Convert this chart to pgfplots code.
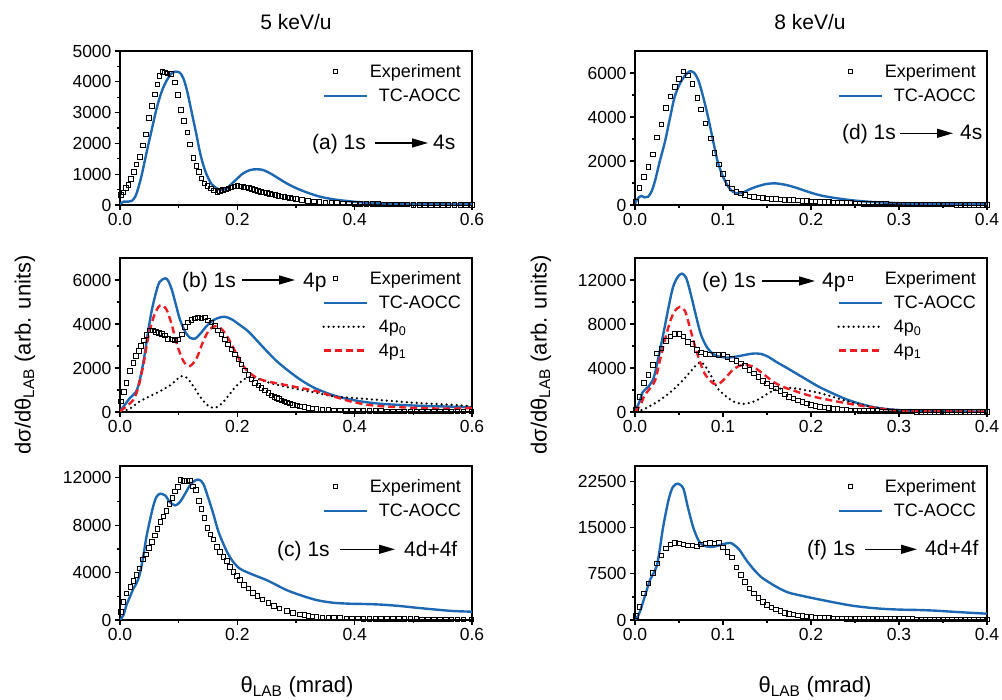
\documentclass[border=0pt]{standalone}
\usepackage{pgfplots}
\pgfplotsset{compat=1.18}
\usepackage{fontspec}
\usepackage{calc}
\setmainfont{Liberation Sans}
\usetikzlibrary{arrows.meta}
\definecolor{tcblue}{RGB}{29,104,178}
\definecolor{pred}{RGB}{236,30,36}
\newcommand{\lw}[1]{\makebox[\widthof{TC-AOCC}][l]{#1}}
\pgfplotsset{
 panel/.style={scale only axis, width=352pt, height=154pt, xmin=0, ymin=0,
  axis line style={line width=1.4pt}, tick align=outside, tick pos=left,
  major tick length=5pt, minor tick length=3pt,
  every tick/.style={line width=1.3pt, black},
  minor x tick num=1, minor y tick num=1, scaled ticks=false,
  tick label style={font=\fontsize{17.5}{20}\selectfont},
  /pgf/number format/assume math mode=true,
  yticklabel style={/pgf/number format/fixed, /pgf/number format/precision=0, /pgf/number format/1000 sep={}},
  xticklabel style={/pgf/number format/fixed, /pgf/number format/fixed zerofill, /pgf/number format/precision=1},
  legend cell align=right,
  legend style={draw=none, fill=none, font=\fontsize{18}{21}\selectfont, at={(1,1)}, anchor=north east, xshift=-6pt, yshift=-6pt,
   nodes={inner xsep=2pt, inner ysep=5pt}},
 },
 exp/.style={only marks, mark=square, mark size=2.3pt, black, mark options={line width=0.75pt, black},
  legend image code/.code={\draw[mark repeat=2,mark phase=2,##1] plot coordinates {(0pt,0pt) (12pt,0pt) (43pt,0pt)};}},
 tc/.style={tcblue, line width=2.4pt, smooth, no markers,
  legend image code/.code={\draw[##1] (0pt,0pt) -- (43pt,0pt);}},
 pz/.style={black, line width=2.5pt, smooth, no markers, line cap=round, dash pattern=on 0pt off 5pt,
  legend image code/.code={\draw[##1] (0pt,0pt) -- (43pt,0pt);}},
 po/.style={pred, line width=2.4pt, smooth, no markers, dash pattern=on 7pt off 4pt,
  legend image code/.code={\draw[##1] (0pt,0pt) -- (43pt,0pt);}},
}
\begin{document}
\begin{tikzpicture}
\path[use as bounding box] (0pt,0pt) rectangle (1002pt,700pt);
\tikzset{anntext/.style={font=\fontsize{21}{24}\selectfont, inner sep=0pt, anchor=base west},
 annarrow/.style={line width=1.3pt, -{Triangle[length=16pt,width=9pt]}}}
% ---------------- (a)
\begin{axis}[panel, at={(120pt,495pt)}, anchor=south west, xmax=0.6, ymax=5000,
 xtick={0,0.2,0.4,0.6}, ytick={0,1000,2000,3000,4000,5000}]
\addplot[exp] table {
0.001 325
0.006 411
0.010 560
0.014 650
0.019 844
0.024 1082
0.028 1320
0.034 1569
0.039 1937
0.044 2294
0.049 2825
0.054 3225
0.059 3593
0.064 3918
0.067 4199
0.072 4329
0.077 4307
0.081 4275
0.087 4253
0.094 3983
0.099 3571
0.104 3084
0.109 2738
0.115 2359
0.119 1970
0.125 1537
0.130 1277
0.134 1082
0.139 866
0.144 703
0.149 617
0.155 541
0.160 476
0.166 433
0.170 460
0.175 495
0.180 509
0.185 540
0.190 574
0.195 600
0.200 615
0.205 610
0.210 595
0.215 575
0.220 550
0.225 520
0.230 485
0.235 455
0.240 430
0.245 405
0.250 385
0.255 360
0.260 340
0.265 320
0.270 300
0.275 280
0.280 262
0.285 245
0.290 230
0.295 216
0.300 200
0.310 168
0.320 140
0.330 115
0.340 97
0.350 84
0.360 72
0.370 62
0.380 53
0.390 47
0.400 42
0.410 38
0.420 34
0.430 30
0.440 27
0.450 24
0.460 21
0.470 19
0.480 17
0.490 15
0.500 13
0.510 12
0.520 12
0.530 11
0.540 11
0.550 10
0.560 10
0.570 10
0.580 10
0.590 10
0.600 10
};
\addlegendentry{Experiment}
\addplot[tc] table {
0.000 30
0.006 108
0.014 108
0.020 130
0.026 270
0.031 541
0.037 974
0.045 1677
0.054 2435
0.0625 3139
0.071 3680
0.080 4058
0.088 4275
0.095 4329
0.102 4296
0.108 4113
0.114 3734
0.119 3300
0.125 2760
0.131 2219
0.136 1732
0.142 1299
0.148 974
0.156 682
0.165 541
0.173 487
0.182 541
0.190 682
0.199 844
0.210 1028
0.222 1136
0.233 1160
0.244 1136
0.256 1028
0.270 866
0.284 703
0.301 541
0.318 411
0.341 270
0.364 184
0.392 119
0.420 76
0.466 43
0.506 32
0.600 22
};
\addlegendentry{TC-AOCC}
\end{axis}
% ---------------- (b)
\begin{axis}[panel, at={(120pt,288pt)}, anchor=south west, xmax=0.6, ymax=7000,
 xtick={0,0.2,0.4,0.6}, ytick={0,2000,4000,6000}]
\addplot[exp] table {
0.001 487
0.007 914
0.011 1325
0.017 1858
0.023 2239
0.027 2543
0.032 2772
0.036 3000
0.041 3259
0.045 3503
0.051 3716
0.056 3716
0.061 3655
0.066 3594
0.071 3564
0.077 3488
0.082 3335
0.088 3305
0.094 3259
0.099 3305
0.105 3533
0.111 3868
0.116 4066
0.122 4188
0.128 4264
0.133 4295
0.139 4264
0.145 4295
0.150 4173
0.156 4066
0.162 3914
0.167 3716
0.173 3533
0.179 3305
0.184 3076
0.190 2848
0.196 2620
0.202 2391
0.207 2163
0.213 1889
0.219 1675
0.224 1477
0.230 1325
0.236 1203
0.241 1097
0.247 975
0.253 868
0.258 762
0.263 690
0.267 640
0.271 585
0.275 533
0.280 485
0.284 442
0.290 385
0.295 335
0.301 295
0.307 259
0.314 220
0.321 183
0.328 158
0.335 137
0.345 112
0.355 95
0.365 82
0.375 72
0.385 63
0.395 55
0.405 50
0.415 47
0.425 44
0.435 41
0.445 38
0.455 36
0.465 34
0.475 32
0.485 31
0.495 30
0.505 30
0.515 30
0.525 30
0.535 30
0.545 30
0.555 30
0.565 30
0.575 30
0.585 30
0.599 30
};
\addlegendentry{Experiment}
\addplot[tc] table {
0.000 30
0.0085 335
0.017 640
0.026 868
0.031 1173
0.037 1858
0.043 2772
0.048 3686
0.054 4600
0.060 5285
0.067 5894
0.077 6077
0.082 5970
0.088 5589
0.095 4904
0.102 4219
0.111 3655
0.119 3381
0.128 3335
0.136 3533
0.148 3914
0.159 4173
0.170 4295
0.179 4325
0.190 4219
0.204 3960
0.219 3655
0.233 3259
0.250 2772
0.267 2315
0.284 1934
0.307 1477
0.329 1127
0.352 868
0.375 670
0.409 487
0.448 365
0.505 289
0.562 244
0.600 213
};
\addlegendentry{TC-AOCC}
\addplot[pz] table {
0.003 30
0.017 152
0.034 487
0.051 716
0.068 944
0.085 1203
0.097 1477
0.105 1630
0.114 1553
0.125 1173
0.136 716
0.148 335
0.159 183
0.170 305
0.182 640
0.193 1020
0.204 1325
0.216 1553
0.227 1584
0.238 1477
0.255 1325
0.278 1173
0.307 1020
0.335 868
0.363 716
0.397 640
0.448 533
0.505 411
0.562 335
0.600 259
};
\addlegendentry{\lw{4p\textsubscript{0}}}
\addplot[po] table {
0.000 30
0.011 259
0.023 563
0.031 1097
0.040 2163
0.048 3381
0.057 4295
0.065 4752
0.071 4858
0.079 4676
0.088 3990
0.097 3076
0.108 2315
0.119 2087
0.131 2467
0.142 3229
0.153 3762
0.165 3914
0.176 3686
0.187 3229
0.199 2620
0.210 2087
0.221 1782
0.233 1553
0.250 1401
0.278 1249
0.307 1097
0.335 944
0.363 716
0.392 487
0.420 335
0.448 259
0.505 183
0.562 152
0.600 183
};
\addlegendentry{\lw{4p\textsubscript{1}}}
\end{axis}
% ---------------- (c)
\begin{axis}[panel, at={(120pt,80pt)}, anchor=south west, xmax=0.6, ymax=13000,
 xtick={0,0.2,0.4,0.6}, ytick={0,4000,8000,12000}]
\addplot[exp] table {
0.001 701
0.006 1542
0.011 2243
0.018 2804
0.023 3309
0.028 3785
0.033 4346
0.039 5103
0.044 5524
0.049 6085
0.054 6589
0.059 7150
0.064 7711
0.069 8272
0.074 8748
0.079 9197
0.084 9814
0.089 10319
0.094 10851
0.099 11216
0.103 11833
0.109 11721
0.114 11721
0.119 11777
0.124 11272
0.129 10992
0.134 10038
0.139 9393
0.144 8636
0.149 7767
0.154 7234
0.159 6814
0.165 6169
0.170 5748
0.176 5328
0.182 4991
0.187 4486
0.193 4066
0.199 3701
0.204 3365
0.211 2944
0.219 2664
0.226 2299
0.234 2019
0.243 1738
0.253 1458
0.262 1206
0.272 981
0.284 785
0.295 617
0.307 477
0.314 420
0.321 365
0.328 320
0.335 280
0.345 235
0.355 205
0.365 180
0.375 160
0.386 140
0.395 130
0.405 122
0.415 115
0.425 110
0.435 104
0.445 98
0.455 93
0.465 88
0.475 84
0.485 80
0.495 76
0.505 72
0.515 68
0.525 63
0.535 58
0.545 56
0.555 56
0.565 56
0.575 56
0.585 56
0.599 56
};
\addlegendentry{Experiment}
\addplot[tc] table {
0.000 0
0.006 421
0.011 1262
0.017 1963
0.023 2664
0.028 3084
0.034 3926
0.040 5468
0.045 7010
0.051 8412
0.057 9674
0.062 10375
0.068 10655
0.077 10515
0.085 9954
0.094 9674
0.102 9954
0.111 10655
0.119 11356
0.128 11777
0.135 11833
0.142 11496
0.150 10375
0.159 8973
0.167 7571
0.176 6449
0.184 5608
0.193 4907
0.204 4346
0.219 3982
0.233 3701
0.250 3365
0.267 2944
0.284 2524
0.307 2103
0.335 1682
0.363 1458
0.392 1374
0.420 1346
0.448 1290
0.477 1178
0.505 1037
0.534 897
0.568 757
0.600 701
};
\addlegendentry{TC-AOCC}
\end{axis}
% ---------------- (d)
\begin{axis}[panel, at={(635pt,495pt)}, anchor=south west, xmax=0.4, ymax=7000,
 xtick={0,0.1,0.2,0.3,0.4}, ytick={0,2000,4000,6000}]
\addplot[exp] table {
0.001 151
0.005 786
0.010 1269
0.015 1723
0.020 2297
0.025 3082
0.030 3672
0.035 4412
0.040 4941
0.045 5379
0.050 5742
0.055 6074
0.060 5893
0.065 5515
0.071 4865
0.075 4352
0.080 3702
0.086 3022
0.090 2372
0.095 1843
0.100 1405
0.105 1012
0.110 756
0.115 604
0.120 525
0.125 450
0.130 400
0.135 372
0.140 345
0.145 320
0.150 300
0.155 280
0.160 265
0.165 255
0.170 245
0.175 235
0.180 222
0.185 210
0.190 195
0.195 180
0.200 165
0.205 157
0.210 150
0.215 142
0.220 130
0.225 121
0.230 112
0.235 104
0.240 93
0.245 84
0.250 75
0.255 66
0.260 60
0.265 55
0.270 50
0.275 46
0.280 42
0.285 38
0.290 35
0.295 33
0.300 31
0.305 30
0.310 29
0.315 28
0.320 27
0.325 26
0.330 25
0.335 24
0.340 23
0.345 22
0.350 21
0.355 20
0.360 19
0.365 18
0.370 17
0.375 16
0.380 16
0.385 15
0.390 15
0.395 15
0.400 15
};
\addlegendentry{Experiment}
\addplot[tc] table {
0.000 76
0.004 332
0.0075 408
0.011 348
0.015 378
0.019 635
0.023 1133
0.028 1964
0.034 2871
0.040 4004
0.045 4911
0.051 5515
0.057 5893
0.062 6074
0.067 6014
0.072 5666
0.077 4986
0.083 4004
0.089 2871
0.094 1964
0.100 1284
0.106 831
0.111 604
0.117 529
0.123 574
0.130 710
0.138 831
0.149 952
0.160 982
0.172 907
0.183 786
0.194 635
0.209 453
0.225 332
0.247 212
0.270 136
0.304 76
0.342 45
0.400 30
};
\addlegendentry{TC-AOCC}
\end{axis}
% ---------------- (e)
\begin{axis}[panel, at={(635pt,288pt)}, anchor=south west, xmax=0.4, ymax=14000,
 xtick={0,0.1,0.2,0.3,0.4}, ytick={0,4000,8000,12000}]
\addplot[exp] table {
0.001 244
0.005 1374
0.010 2656
0.015 3358
0.020 4274
0.025 5343
0.030 5801
0.035 6472
0.040 6869
0.045 7083
0.050 7083
0.055 6869
0.060 6350
0.065 6167
0.070 5648
0.075 5404
0.080 5282
0.085 5251
0.090 5251
0.095 5190
0.100 5251
0.105 5037
0.110 4824
0.115 4640
0.120 4427
0.125 4213
0.130 3816
0.135 3511
0.140 3206
0.145 2839
0.150 2595
0.155 2351
0.160 2137
0.165 1893
0.170 1600
0.175 1374
0.180 1221
0.185 1069
0.190 916
0.195 780
0.200 660
0.205 560
0.210 475
0.215 410
0.220 350
0.225 305
0.230 260
0.235 220
0.240 190
0.245 160
0.250 140
0.255 120
0.260 105
0.265 95
0.270 85
0.275 75
0.280 68
0.285 60
0.290 55
0.295 50
0.300 45
0.305 43
0.310 40
0.315 38
0.320 35
0.325 34
0.330 33
0.335 32
0.340 31
0.345 31
0.350 31
0.355 31
0.360 31
0.365 31
0.370 31
0.375 31
0.380 31
0.385 31
0.390 31
0.395 31
0.400 31
};
\addlegendentry{Experiment}
\addplot[tc] table {
0.000 61
0.005 916
0.009 1832
0.015 2290
0.021 3053
0.026 4732
0.032 7022
0.038 9464
0.043 11296
0.048 12212
0.053 12578
0.058 12212
0.063 10838
0.069 8854
0.075 7022
0.082 5862
0.089 5251
0.096 5037
0.106 4946
0.115 5037
0.125 5190
0.134 5312
0.143 5282
0.151 5037
0.160 4580
0.172 4030
0.183 3511
0.194 2992
0.209 2290
0.225 1679
0.240 1160
0.255 763
0.270 458
0.285 275
0.304 153
0.323 92
0.360 61
0.400 31
};
\addlegendentry{TC-AOCC}
\addplot[pz] table {
0.002 0
0.013 366
0.025 916
0.036 1527
0.047 2290
0.058 3206
0.068 4122
0.074 4518
0.079 4274
0.087 3206
0.094 2137
0.104 1374
0.113 916
0.123 733
0.132 855
0.142 1221
0.151 1679
0.160 2045
0.172 2198
0.183 2137
0.194 1984
0.209 1740
0.225 1374
0.240 1007
0.255 702
0.270 458
0.285 275
0.304 153
0.342 61
0.400 31
};
\addlegendentry{\lw{4p\textsubscript{0}}}
\addplot[po] table {
0.000 0
0.006 610
0.011 1527
0.017 2137
0.023 2900
0.028 4580
0.034 6564
0.040 8243
0.045 9159
0.051 9556
0.057 9159
0.062 7785
0.070 5495
0.079 3511
0.089 2595
0.096 2595
0.104 3206
0.111 3816
0.119 4213
0.126 4274
0.134 4122
0.145 3511
0.157 2748
0.168 2290
0.179 1984
0.194 1588
0.209 1282
0.228 977
0.247 702
0.266 458
0.285 244
0.304 122
0.342 61
0.400 31
};
\addlegendentry{\lw{4p\textsubscript{1}}}
\end{axis}
% ---------------- (f)
\begin{axis}[panel, at={(635pt,80pt)}, anchor=south west, xmax=0.4, ymax=25000,
 xtick={0,0.1,0.2,0.3,0.4}, ytick={0,7500,15000,22500}]
\addplot[exp] table {
0.001 648
0.005 2158
0.010 4317
0.015 5936
0.020 7662
0.025 9173
0.030 10522
0.035 11601
0.040 12303
0.045 12519
0.050 12411
0.055 12303
0.060 12141
0.065 12141
0.070 11979
0.075 12303
0.080 12411
0.085 12519
0.090 12411
0.095 12519
0.100 11763
0.105 11062
0.110 10144
0.115 8526
0.120 7285
0.125 6205
0.130 5126
0.135 4317
0.140 3615
0.145 2968
0.150 2428
0.155 2050
0.160 1727
0.165 1457
0.170 1200
0.175 1025
0.180 880
0.185 760
0.190 670
0.195 560
0.200 486
0.205 420
0.210 370
0.215 330
0.220 295
0.225 270
0.230 255
0.235 240
0.240 228
0.245 218
0.250 210
0.255 202
0.260 195
0.265 188
0.270 180
0.275 172
0.280 165
0.285 160
0.290 155
0.295 150
0.300 146
0.305 142
0.310 138
0.315 134
0.320 130
0.325 126
0.330 122
0.335 118
0.340 115
0.345 113
0.350 111
0.355 110
0.360 109
0.365 108
0.370 108
0.375 108
0.380 108
0.385 108
0.390 108
0.395 108
0.400 108
};
\addlegendentry{Experiment}
\addplot[tc] table {
0.000 0
0.004 809
0.0075 2158
0.011 3777
0.017 6475
0.021 7554
0.025 8903
0.028 11331
0.032 15108
0.038 19426
0.043 21584
0.049 22124
0.055 21314
0.060 18346
0.066 15108
0.072 12950
0.077 12141
0.085 11871
0.092 11979
0.100 12303
0.108 12519
0.113 12141
0.119 11331
0.126 9821
0.134 8364
0.143 7015
0.153 6044
0.164 5126
0.175 4425
0.191 3885
0.209 3346
0.228 2806
0.247 2320
0.266 1997
0.285 1781
0.304 1673
0.323 1619
0.342 1511
0.360 1349
0.379 1187
0.400 1025
};
\addlegendentry{TC-AOCC}
\end{axis}
% ---------------- annotations
\node[anntext] at (312pt,550.5pt) {(a) 1s};
\draw[annarrow] (375pt,557pt) -- (428pt,557pt);
\node[anntext] at (433pt,550.5pt) {4s};
\node[anntext] at (182pt,412.7pt) {(b) 1s};
\draw[annarrow] (242pt,420pt) -- (295pt,420pt);
\node[anntext] at (303pt,412.7pt) {4p};
\node[anntext] at (277pt,143.3pt) {(c) 1s};
\draw[annarrow] (340pt,150.7pt) -- (395pt,150.7pt);
\node[anntext] at (404pt,143.3pt) {4d+4f};
\node[anntext] at (842pt,560pt) {(d) 1s};
\draw[annarrow] (900pt,566.7pt) -- (953pt,566.7pt);
\node[anntext] at (960pt,560pt) {4s};
\node[anntext] at (702pt,412.7pt) {(e) 1s};
\draw[annarrow] (762pt,419pt) -- (815pt,419pt);
\node[anntext] at (822pt,412.7pt) {4p};
\node[anntext] at (807pt,144pt) {(f) 1s};
\draw[annarrow] (865pt,150.7pt) -- (917pt,150.7pt);
\node[anntext] at (925pt,144pt) {4d+4f};
% titles and labels
\node[font=\fontsize{21}{24}\selectfont] at (296pt,678pt) {5 keV/u};
\node[font=\fontsize{21}{24}\selectfont] at (810pt,678pt) {8 keV/u};
\node[font=\fontsize{22}{26}\selectfont] at (297pt,13pt) {θ\textsubscript{LAB} (mrad)};
\node[font=\fontsize{22}{26}\selectfont] at (815pt,13pt) {θ\textsubscript{LAB} (mrad)};
\node[font=\fontsize{22}{26}\selectfont, rotate=90] at (25pt,345pt) {dσ/dθ\textsubscript{LAB} (arb. units)};
\node[font=\fontsize{22}{26}\selectfont, rotate=90] at (541pt,345pt) {dσ/dθ\textsubscript{LAB} (arb. units)};
\end{tikzpicture}
\end{document}
